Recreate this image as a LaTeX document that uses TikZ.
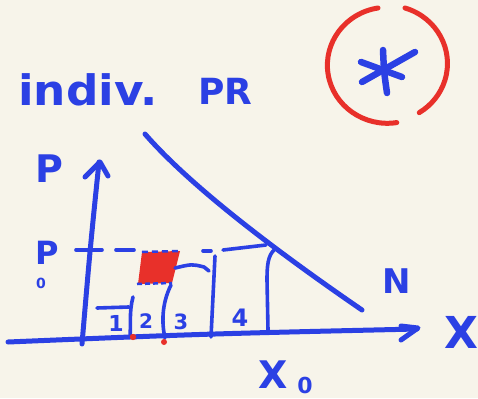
\documentclass[tikz,border=0pt]{standalone}
\usepackage{fontspec}
\setmainfont{DejaVu Sans}
\definecolor{penblue}{HTML}{2B40E4}
\definecolor{penred}{HTML}{E8302A}
\definecolor{paper}{HTML}{F7F4EA}
\begin{document}
\begin{tikzpicture}[x=1pt,y=-1pt]
\tikzset{
  ink/.style={draw=penblue, line width=5pt, line cap=round, line join=round},
  fineink/.style={draw=penblue, line width=3.6pt, line cap=round, line join=round},
  redink/.style={draw=penred, line width=5pt, line cap=round},
  hand/.style={text=penblue, font=\bfseries\fontsize{#1}{#1}\selectfont, inner sep=0pt},
}
\fill[paper] (0,0) rectangle (478,398);
\useasboundingbox (0,0) rectangle (478,398);

% title
\node[hand=42, anchor=base west, xscale=1.08] (title) at (18,106) {indiv.};
\node[hand=36, anchor=base west] (titlePR) at (198,105) {PR};

% red circle with asterisk
\coordinate (ring) at (388,64);
\draw[redink] (378,8) arc[start angle=-99, end angle=-279, x radius=60, y radius=58];
\draw[redink] (405,8) arc[start angle=-73, end angle=58, x radius=60, y radius=58];
\coordinate (star) at (385,72);
\draw[ink, line width=6.5pt] (383,50) .. controls (384,72) .. (387,93);
\draw[ink, line width=6.5pt] (361,62) -- (402,77);
\draw[ink, line width=6.5pt] (415,52) -- (362,82);

% axes
\draw[ink] (82,344) .. controls (90,250) .. (99,162);
\draw[ink] (85,177) -- (100,162) -- (108,176);
\draw[ink] (8,342) .. controls (200,334) .. (417,329);
\draw[ink] (401,326) -- (418,328) -- (401,340);

% demand curve
\draw[ink] (145,134) .. controls (185,180) and (260,240) .. (362,310);

% dashed price line
\draw[fineink] (76,250) -- (102,250);
\draw[fineink] (116,250) -- (134,250);
\draw[fineink] (203,251) -- (211,251);
\draw[fineink] (223,250) -- (266,245);

% red block
\fill[penred] (142,252) -- (180,251) -- (172,283) -- (138,284) -- cycle;
\draw[penblue, line width=2.5pt, dash pattern=on 6pt off 4pt] (142,252) -- (180,251);
\draw[penblue, line width=2.5pt, dash pattern=on 5pt off 3pt] (137,284) -- (172,283);

% bars
\draw[fineink] (97,308) -- (129,307);
\draw[fineink] (133,297) .. controls (129,312) and (131,325) .. (130,337);
\draw[fineink] (171,285) .. controls (161,305) and (162,325) .. (165,338);
\draw[fineink] (175,268) .. controls (192,264) .. (204,267) -- (209,271);
\draw[fineink] (215,256) -- (211,337);
\draw[fineink] (274,250) .. controls (268,256) and (267,265) .. (267,280) -- (268,330);

% red marks on axis
\fill[penred] (133,337) circle (3.2);
\fill[penred] (164,342) circle (3);

% labels
\node[hand=38] (labP) at (49,169) {P};
\node[hand=32] (labPzero) at (47,253) {P};
\node[hand=14] (labPsub) at (41,283) {0};
\node[hand=22] (num1) at (116,323) {1};
\node[hand=20] (num2) at (146,321) {2};
\node[hand=21] (num3) at (181,322) {3};
\node[hand=24] (num4) at (240,318) {4};
\node[hand=34] (labN) at (397,281) {N};
\node[hand=44] (labX) at (461,332) {X};
\node[hand=38, anchor=base west] (labXzero) at (258,388) {X};
\node[hand=22] (labXsub) at (305,385) {0};
\end{tikzpicture}
\end{document}
